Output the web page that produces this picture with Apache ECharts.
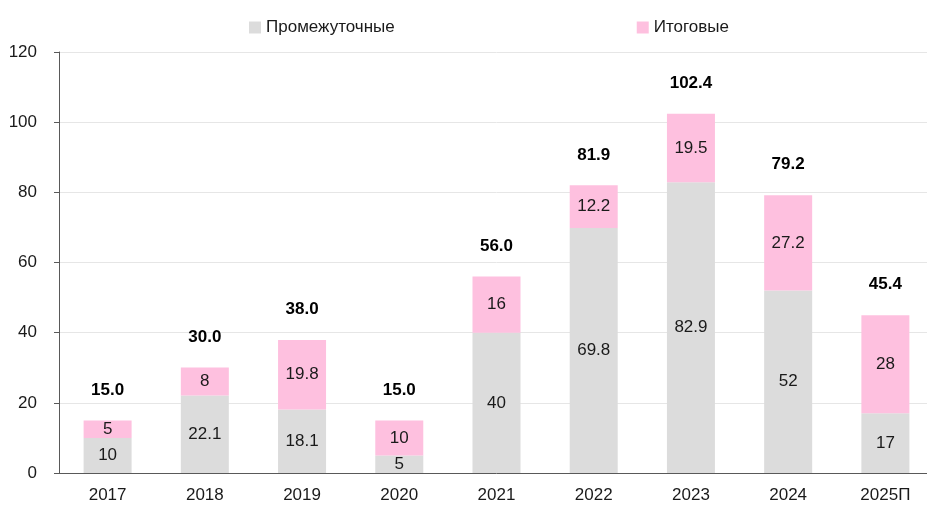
<!DOCTYPE html>
<html>
<head>
<meta charset="utf-8">
<script src="https://cdn.jsdelivr.net/npm/echarts@6/dist/echarts.min.js"></script>
<style>
  html, body { margin: 0; padding: 0; background: #fff; overflow: hidden; }
  #chart { width: 935px; height: 507px; }
</style>
</head>
<body>
<div id="chart"></div>
<script>
var years = ['2017', '2018', '2019', '2020', '2021', '2022', '2023', '2024', '2025П'];
var interim = [10, 22.1, 18.1, 5, 40, 69.8, 82.9, 52, 17];
var finals = [5, 8, 19.8, 10, 16, 12.2, 19.5, 27.2, 28];
var totals = [15.0, 30.0, 38.0, 15.0, 56.0, 81.9, 102.4, 79.2, 45.4];

var font = "'Liberation Sans', Arial, sans-serif";

var dom = document.getElementById('chart');
var myChart = echarts.init(dom);
var option = {
    animation: false,
    textStyle: { fontFamily: font },
    legend: {
        top: 14,
        left: 244,
        itemWidth: 12,
        itemHeight: 12,
        itemGap: 242,
        icon: 'rect',
        textStyle: { fontSize: 17, color: '#1a1a1a', fontFamily: font },
        data: ['Промежуточные', 'Итоговые']
    },
    grid: {
        left: 59,
        right: 1,
        top: 52,
        bottom: 34
    },
    xAxis: {
        type: 'category',
        data: years,
        axisLine: { lineStyle: { color: '#595959', width: 1 } },
        axisTick: { show: false },
        axisLabel: { fontSize: 17, color: '#1a1a1a', margin: 14, fontFamily: font }
    },
    yAxis: {
        type: 'value',
        min: 0,
        max: 120,
        interval: 20,
        axisLine: { show: true, lineStyle: { color: '#595959' } },
        axisTick: { show: true, length: 5, lineStyle: { color: '#595959' } },
        splitLine: { lineStyle: { color: '#e6e6e6' } },
        axisLabel: { fontSize: 17, color: '#1a1a1a', margin: 22, fontFamily: font }
    },
    series: [
        {
            name: 'Промежуточные',
            type: 'bar',
            stack: 'all',
            barWidth: 48,
            data: interim,
            itemStyle: { color: '#dcdcdc' },
            label: {
                show: true,
                position: 'inside',
                fontSize: 17,
                color: '#1a1a1a',
                fontFamily: font
            }
        },
        {
            name: 'Итоговые',
            type: 'bar',
            stack: 'all',
            barWidth: 48,
            data: finals,
            itemStyle: { color: '#fec0df' },
            label: {
                show: true,
                position: 'inside',
                fontSize: 17,
                color: '#1a1a1a',
                fontFamily: font
            }
        },
        {
            name: 'total',
            type: 'bar',
            stack: 'all',
            barWidth: 48,
            data: totals.map(function () { return 0; }),
            itemStyle: { color: 'transparent' },
            label: {
                show: true,
                position: 'top',
                distance: 22,
                fontSize: 17,
                fontWeight: 'bold',
                color: '#000',
                fontFamily: font,
                formatter: function (p) {
                    return totals[p.dataIndex].toFixed(1);
                }
            }
        }
    ]
};
myChart.setOption(option);
</script>
</body>
</html>
